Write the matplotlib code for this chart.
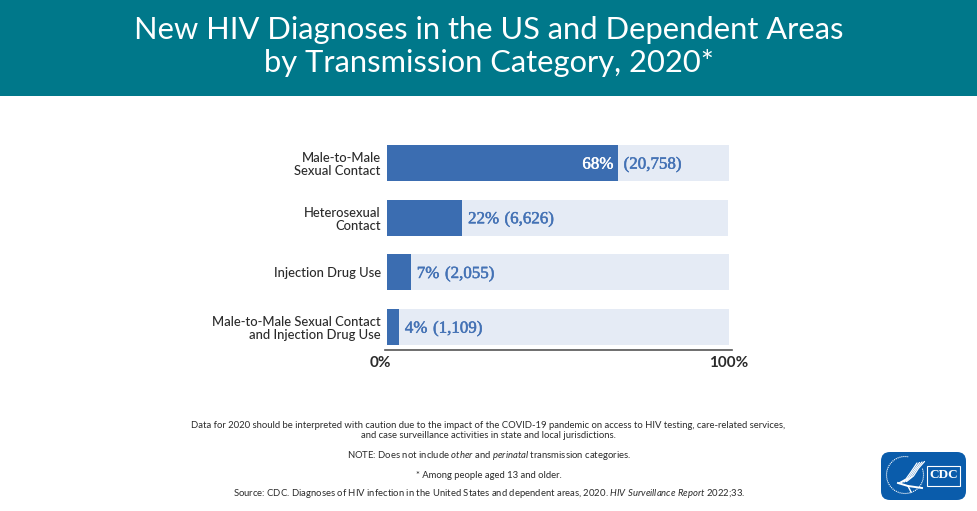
import matplotlib
matplotlib.use("Agg")
import matplotlib.pyplot as plt
import matplotlib.patheffects as pe
from matplotlib.patches import Rectangle, FancyBboxPatch, Arc
from matplotlib.transforms import ScaledTranslation

W, H = 978, 511
TEAL = "#00788a"
BLUE = "#3b6db1"
TRACK = "#e5ebf5"
LABEL_BLUE = "#4472b5"
DARK = "#2b2b2b"
LOGO = "#0a5cab"

categories = [
    "Male-to-Male\nSexual Contact",
    "Heterosexual\nContact",
    "Injection Drug Use",
    "Male-to-Male Sexual Contact\nand Injection Drug Use",
]
bar_widths = [67.6, 22, 7, 3.5]
track_widths = [100, 99.6, 100, 100]
pct_labels = ["68%", "22%", "7%", "4%"]
count_labels = ["(20,758)", "(6,626)", "(2,055)", "(1,109)"]
x_ticks = [0, 100]
x_tick_labels = ["0%", "100%"]

plt.rcParams["font.family"] = ["Lato", "DejaVu Sans"]
plt.rcParams["mathtext.fontset"] = "custom"
plt.rcParams["mathtext.it"] = "Lato:italic"
plt.rcParams["mathtext.rm"] = "Lato"

fig = plt.figure(figsize=(W / 100, H / 100), dpi=100, facecolor="white")

# overlay in pixel coords for the banner, footer and logo
bg = fig.add_axes([0, 0, 1, 1])
bg.set_xlim(0, W)
bg.set_ylim(H, 0)
bg.axis("off")
bg.add_patch(Rectangle((0, 0), W, 96, color=TEAL, lw=0))
bg.text(489, 30, "New HIV Diagnoses in the US and Dependent Areas", color="white",
        fontsize=22.25, ha="center", va="center")
bg.text(489, 63, "by Transmission Category, 2020*", color="white",
        fontsize=22.25, ha="center", va="center")

foot = dict(fontsize=6.87, color=DARK, ha="center", va="center")
bg.text(488, 425, "Data for 2020 should be interpreted with caution due to the impact of the "
        "COVID-19 pandemic on access to HIV testing, care-related services,", **foot)
bg.text(488, 436, "and case surveillance activities in state and local jurisdictions.", **foot)
bg.text(489, 455, "NOTE: Does not include $\\mathit{other}$ and $\\mathit{perinatal}$ "
        "transmission categories.", **foot)
bg.text(489, 475, "* Among people aged 13 and older.", **foot)
bg.text(489, 494, "Source: CDC. Diagnoses of HIV infection in the United States and dependent "
        "areas, 2020. $\\mathit{HIV\\ Surveillance\\ Report}$ 2022;33.", **foot)

# logo
bg.add_patch(FancyBboxPatch((881, 452), 85, 48, boxstyle="round,pad=0,rounding_size=9",
                            fc=LOGO, ec="none"))
bg.add_patch(Arc((905, 475), 37, 37, theta1=-20, theta2=280, ec="white", lw=0.8,
                 ls=(0, (1, 0.8))))
for dx in (0, 2.5, 5, 7.5):
    bg.plot([899 + dx, 906 + dx, 911 + dx, 917 + dx],
            [483 - dx * 0.2, 479 - dx * 0.4, 472 - dx * 0.5, 463 - dx * 0.2],
            color="white", lw=0.9, solid_capstyle="round")
bg.plot([898, 908, 922], [483, 486, 488], color="white", lw=1.4)
bg.plot([908, 911], [486, 492], color="white", lw=1.0)
bg.add_patch(Rectangle((927, 466), 33, 20, fc=LOGO, ec="white", lw=0.8))
bg.text(943.5, 475.5, "CDC", color="white", fontsize=9.5, fontweight="bold",
        family="Liberation Serif", ha="center", va="center")

# chart, axes placed so that 0-100 spans 387-729 px
ax = fig.add_axes([385 / W, 1 - 350 / H, (732 - 385) / W, 210 / H])
ax.patch.set_alpha(0)
ypos = list(range(len(categories)))
ax.barh(ypos, track_widths, height=0.66, color=TRACK)
ax.barh(ypos, bar_widths, height=0.66, color=BLUE)
ax.set_xlim(-0.6, 100.9)
ax.set_ylim(3.42, -0.42)


def thicken(color):
    return [pe.withStroke(linewidth=0.35, foreground=color)]


serif = dict(family="Liberation Serif", fontsize=12.2, va="center")
for y, w, pct, count in zip(ypos, bar_widths, pct_labels, count_labels):
    if w > 50:
        ax.text(w - 1.4, y + 0.03, pct, color="white", ha="right",
                path_effects=thicken("white"), **serif)
        ax.text(w + 1.6, y + 0.03, count, color=LABEL_BLUE, ha="left",
                path_effects=thicken(LABEL_BLUE), **serif)
    else:
        t = ax.text(w + 1.7, y + 0.03, pct, color=LABEL_BLUE, ha="left",
                    path_effects=thicken(LABEL_BLUE), **serif)
        ax.annotate(count, xy=(1, 0.5), xycoords=t, xytext=(4, 0),
                    textcoords="offset points", color=LABEL_BLUE, ha="left",
                    path_effects=thicken(LABEL_BLUE), **serif)

ax.set_yticks(ypos)
ax.set_yticklabels(categories, fontsize=9.4, color=DARK, linespacing=1.1, ha="right",
                   fontweight="medium")
ax.tick_params(axis="y", length=0, pad=3)
ax.set_xticks(x_ticks)
ax.set_xticklabels(x_tick_labels, fontsize=11, fontweight="bold", color=DARK)
ax.tick_params(axis="x", length=0, pad=4)
# 0% sits a little left of the zero position
zero = ax.get_xticklabels()[0]
zero.set_transform(zero.get_transform() + ScaledTranslation(-7 / 100, 0, fig.dpi_scale_trans))

for side in ("top", "left", "right"):
    ax.spines[side].set_visible(False)
ax.spines["bottom"].set_color("#555555")
ax.spines["bottom"].set_linewidth(1.2)

fig.savefig("out.png", dpi=100)
